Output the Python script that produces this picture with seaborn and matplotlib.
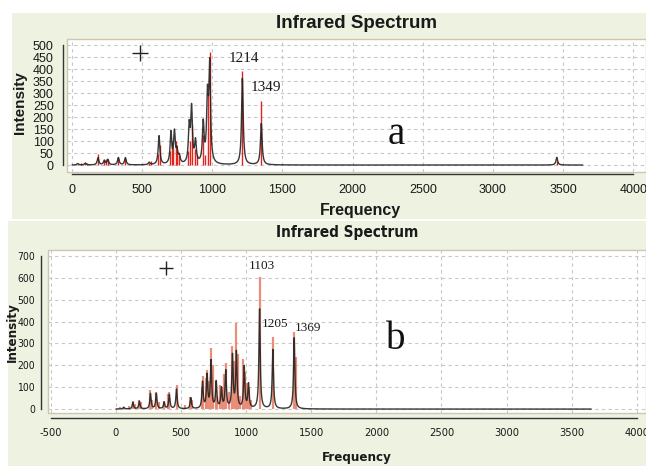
import numpy as np
import pandas as pd
import matplotlib
matplotlib.use("Agg")
import matplotlib.pyplot as plt
import seaborn as sns
from matplotlib.patches import Rectangle
from matplotlib.ticker import MultipleLocator

# ---- spectrum a: computed stick intensities and band envelope ----
a_stick_freq = [40, 65, 95, 110, 185, 225, 240, 255, 330, 375, 545, 560,
                612, 625, 700, 712, 722, 738, 745, 760, 825, 838, 852, 878,
                892, 935, 948, 968, 981, 1214, 1349, 3455]
a_stick_int = [6, 8, 10, 8, 46, 20, 25, 20, 35, 30, 10, 15,
               45, 85, 60, 100, 70, 100, 60, 40, 60, 100, 167, 65,
               40, 125, 40, 300, 470, 390, 265, 15]
a_band_freq = [40, 95, 185, 230, 255, 330, 380, 550, 620, 705, 730, 748,
               765, 835, 852, 880, 935, 965, 981, 1214, 1349, 3455]
a_band_height = [6, 8, 30, 18, 22, 30, 30, 10, 120, 130, 130, 50,
                 30, 150, 225, 90, 165, 260, 400, 360, 172, 32]
a_labels = [1214, 1349]

# ---- spectrum b ----
b_stick_freq = [30, 60, 100, 130, 150, 175, 195, 265, 275, 310, 330, 370,
                400, 410, 465, 530, 570, 585, 660, 672, 690, 700, 715, 730,
                745, 765, 775, 800, 812, 830, 842, 870, 893, 905, 925, 935,
                955, 975, 990, 1010, 1020, 1040, 1103, 1205, 1369, 1379]
b_stick_int = [8, 10, 15, 35, 25, 40, 30, 85, 40, 80, 30, 35,
               70, 80, 110, 20, 55, 40, 100, 150, 140, 180, 130, 278,
               200, 130, 60, 110, 100, 160, 210, 80, 290, 220, 392, 250,
               60, 230, 170, 120, 100, 40, 605, 328, 350, 240]
b_band_freq = [60, 130, 180, 265, 310, 370, 410, 465, 575, 665, 700, 730,
               770, 810, 843, 895, 925, 985, 1018, 1103, 1205, 1369]
b_band_height = [8, 30, 35, 70, 70, 30, 65, 90, 50, 120, 150, 215,
                 120, 90, 170, 240, 255, 190, 110, 455, 270, 325]
b_labels = [1103, 1205, 1369]

W, H = 646, 466
sns.set_style("white")
plt.rcParams["axes.unicode_minus"] = False
plt.rcParams["font.family"] = ["Liberation Sans", "DejaVu Sans"]
COND = ["DejaVu Sans"]
SERIF = ["Liberation Serif", "DejaVu Serif"]
PANEL = "#edf2e1"
INK = "#1a1a1a"


def envelope(freqs, heights, grid, hwhm):
    x = np.asarray(grid, float)[:, None]
    f = np.asarray(freqs, float)[None, :]
    h = np.asarray(heights, float)[None, :]
    return (h * hwhm ** 2 / ((x - f) ** 2 + hwhm ** 2)).sum(axis=1)


def px_axes(fig, left, top, right, bottom):
    return fig.add_axes([left / W, 1 - bottom / H, (right - left) / W,
                         (bottom - top) / H])


fig = plt.figure(figsize=(W / 100, H / 100), dpi=100)
fig.patch.set_facecolor("white")
fig.add_artist(Rectangle((12 / W, 1 - 219 / H), (W - 12) / W, 206 / H,
                         transform=fig.transFigure, facecolor=PANEL,
                         edgecolor="none", zorder=0))
fig.add_artist(Rectangle((8 / W, 0), (W - 8) / W, 1 - 221 / H,
                         transform=fig.transFigure, facecolor=PANEL,
                         edgecolor="none", zorder=0))


def style_axes(ax, xlim, ylim, xb, yb, ymaj, ymin, yout, xout, labsize,
               ylabsize, ylen, condensed):
    ax.set_xlim(*xlim)
    ax.set_ylim(*ylim)
    ax.set_facecolor("white")
    ax.patch.set_edgecolor("#cfc7ad")
    ax.patch.set_linewidth(1.0)
    for s in ("top", "right"):
        ax.spines[s].set_visible(False)
    ax.spines["left"].set_position(("outward", yout))
    ax.spines["bottom"].set_position(("outward", xout))
    ax.spines["left"].set_bounds(*yb)
    ax.spines["bottom"].set_bounds(*xb)
    for s in ("left", "bottom"):
        ax.spines[s].set_color("#333333")
        ax.spines[s].set_linewidth(1.0)
    ax.set_xticks(np.arange(xb[0], xb[1] + 1, 500))
    ax.xaxis.set_minor_locator(MultipleLocator(50))
    ax.set_yticks(np.arange(yb[0], yb[1] + 1, ymaj))
    if ymin:
        ax.yaxis.set_minor_locator(MultipleLocator(ymin))
    ax.tick_params(axis="x", which="major", direction="out", length=5,
                   width=0.9, color="#333333", labelsize=labsize,
                   labelcolor=INK, pad=2)
    ax.tick_params(axis="y", which="major", direction="out", length=ylen,
                   width=0.9, color="#333333", labelsize=ylabsize,
                   labelcolor=INK, pad=1.5)
    ax.tick_params(axis="x", which="minor", direction="out", length=3,
                   width=0.8, color="#333333")
    ax.tick_params(axis="y", which="minor", direction="out", length=2,
                   width=0.8, color="#333333")
    for lab in ax.get_xticklabels() + ax.get_yticklabels():
        if condensed:
            lab.set_family(COND)
            lab.set_fontstretch("condensed")
    ax.grid(True, which="major", color="#c8c8c8", linestyle=(0, (3, 3)),
            linewidth=0.8)
    ax.set_axisbelow(True)
    ax.set_xlabel("")
    ax.set_ylabel("")


# ---------------- panel a ----------------
ax1 = px_axes(fig, 67, 39, 646, 172)
grid_a = np.linspace(0, 3640, 3641)
df_a = pd.DataFrame({"Frequency": grid_a,
                     "Intensity": envelope(a_band_freq, a_band_height,
                                           grid_a, 7.0)})
ax1.vlines(a_stick_freq, 0, a_stick_int, color="#e3241c", linewidth=1.0,
           zorder=2)
sns.lineplot(data=df_a, x="Frequency", y="Intensity", ax=ax1,
             color="#222222", linewidth=1.0, alpha=0.9, zorder=3)
style_axes(ax1, (-36, 4091), (-29, 525), (0, 4000), (0, 500), 50, None,
           3.0, 1.5, 9, 9, 5, False)
ax1.plot([486], [467], marker="+", markersize=11, color="#222222",
         markeredgewidth=1.0)
ax1.text(a_labels[0] + 12, 444, str(a_labels[0]), ha="center", va="center",
         family=SERIF, fontsize=11, color=INK)
ax1.text(a_labels[1] + 34, 321, str(a_labels[1]), ha="center", va="center",
         family=SERIF, fontsize=11, color=INK)
ax1.text(2310, 128, "a", ha="center", va="center",
         family=SERIF, fontsize=28, color="#111111")

fig.text(356 / W, 1 - 24 / H, "Infrared Spectrum", ha="center",
         va="center", fontsize=13.5, fontweight="bold", color=INK)
fig.text(360 / W, 1 - 210 / H, "Frequency", ha="center", va="center",
         fontsize=11.5, fontweight="bold", color=INK)
fig.text(20 / W, 1 - 103 / H, "Intensity", ha="center", va="center",
         rotation=90, fontsize=11, fontweight="bold", color=INK)

# ---------------- panel b ----------------
ax2 = px_axes(fig, 48, 250, 646, 413)
grid_b = np.linspace(0, 3650, 3651)
df_b = pd.DataFrame({"Frequency": grid_b,
                     "Intensity": envelope(b_band_freq, b_band_height,
                                           grid_b, 6.0)})
ax2.vlines(b_stick_freq, 0, b_stick_int, color="#e8826c", linewidth=1.6,
           alpha=0.9, zorder=2)
sns.lineplot(data=df_b, x="Frequency", y="Intensity", ax=ax2,
             color="#222222", linewidth=1.0, alpha=0.9, zorder=3)
style_axes(ax2, (-522, 4071), (-18, 727), (-500, 4000), (0, 700), 100, 50,
           5.0, 3.6, 8, 7.5, 3, True)
ax2.plot([385], [645], marker="+", markersize=10, color="#222222",
         markeredgewidth=1.0)
ax2.text(b_labels[0] + 18, 656, str(b_labels[0]), ha="center", va="center",
         family=SERIF, fontsize=9.5, color=INK)
ax2.text(b_labels[1] + 20, 389, str(b_labels[1]), ha="center", va="center",
         family=SERIF, fontsize=9.5, color=INK)
ax2.text(b_labels[2] + 102, 370, str(b_labels[2]), ha="center", va="center",
         family=SERIF, fontsize=9.5, color=INK)
ax2.text(2145, 320, "b", ha="center", va="center",
         family=SERIF, fontsize=28, color="#111111")

fig.text(347 / W, 1 - 233 / H, "Infrared Spectrum", ha="center",
         va="center", fontsize=11, fontweight="bold", color=INK,
         family=COND, fontstretch="condensed")
fig.text(357 / W, 1 - 458 / H, "Frequency", ha="center", va="center",
         fontsize=9.5, fontweight="bold", color=INK, family=COND,
         fontstretch="condensed")
fig.text(12 / W, 1 - 332 / H, "Intensity", ha="center", va="center",
         rotation=90, fontsize=9.5, fontweight="bold", color=INK,
         family=COND, fontstretch="condensed")

fig.savefig("out.png", dpi=100, facecolor=fig.get_facecolor())
